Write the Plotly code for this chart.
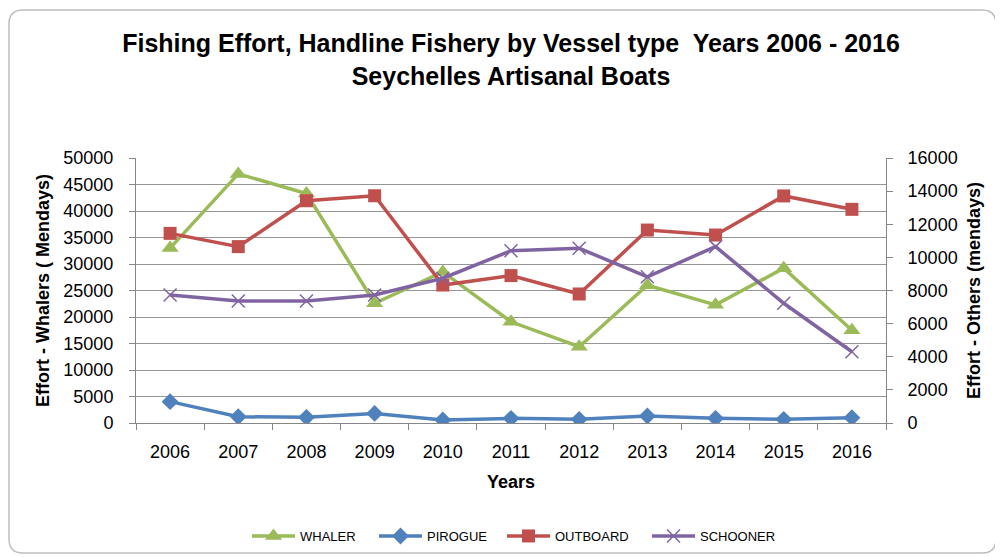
import plotly.graph_objects as go

years = ["2006", "2007", "2008", "2009", "2010", "2011", "2012", "2013", "2014", "2015", "2016"]
whaler = [33000, 47000, 43300, 22600, 28500, 19100, 14400, 26000, 22300, 29200, 17500]
pirogue = [1290, 380, 340, 580, 180, 280, 220, 420, 280, 220, 320]
outboard = [11450, 10650, 13420, 13720, 8330, 8900, 7790, 11650, 11350, 13710, 12900]
schooner = [7730, 7370, 7370, 7730, 8740, 10400, 10550, 8830, 10650, 7230, 4300]

OFF = 8  # page body margin offset
W, H = 1003 - OFF, 557 - OFF
L, R, T, B = 136 - OFF, 886 - OFF, 158 - OFF, 423 - OFF


def px(x):
    # page pixel x -> paper coordinate
    return (x - OFF - L) / (R - L)


def py(y):
    return (B - (y - OFF)) / (B - T)


fig = go.Figure()
fig.add_trace(go.Scatter(x=years, y=whaler, name="WHALER", mode="lines+markers", legend="legend",
                         line=dict(color="#9BBB59", width=3.5),
                         marker=dict(symbol="triangle-up", size=15, color="#9BBB59")))
fig.add_trace(go.Scatter(x=years, y=pirogue, name="PIROGUE", mode="lines+markers", yaxis="y2",
                         legend="legend2",
                         line=dict(color="#4F81BD", width=3.5),
                         marker=dict(symbol="diamond", size=13, color="#4F81BD")))
fig.add_trace(go.Scatter(x=years, y=outboard, name="OUTBOARD", mode="lines+markers", yaxis="y2",
                         legend="legend3",
                         line=dict(color="#C0504D", width=3.5),
                         marker=dict(symbol="square", size=13, color="#C0504D")))
fig.add_trace(go.Scatter(x=years, y=schooner, name="SCHOONER", mode="lines+markers", yaxis="y2",
                         legend="legend4",
                         line=dict(color="#8064A2", width=3.5),
                         marker=dict(symbol="x-thin-open", size=13, color="#8064A2",
                                     line=dict(color="#8064A2", width=1.5))))

# rounded outer border (page pixel coordinates)
x0, x1, y0, y1, r = 9, 996, 10, 553, 14
path = (f"M {px(x0+r)},{py(y0)} L {px(x1-r)},{py(y0)} Q {px(x1)},{py(y0)} {px(x1)},{py(y0+r)} "
        f"L {px(x1)},{py(y1-r)} Q {px(x1)},{py(y1)} {px(x1-r)},{py(y1)} "
        f"L {px(x0+r)},{py(y1)} Q {px(x0)},{py(y1)} {px(x0)},{py(y1-r)} "
        f"L {px(x0)},{py(y0+r)} Q {px(x0)},{py(y0)} {px(x0+r)},{py(y0)} Z")

legend_starts = [253, 380, 508, 653]
legend_common = dict(orientation="h", yanchor="middle", y=py(536), xanchor="left",
                     font=dict(size=13), itemwidth=43, bgcolor="rgba(0,0,0,0)")

axis_font = dict(size=18)
tick_font = dict(size=18)
fig.update_layout(
    width=W, height=H, showlegend=True,
    margin=dict(l=L, r=W - R, t=T, b=H - B, autoexpand=False),
    paper_bgcolor="white", plot_bgcolor="white",
    font=dict(family="Liberation Sans, Arial", color="#000000", size=15),
    title=dict(text="<b>Fishing Effort, Handline Fishery by Vessel type  Years 2006 - 2016<br>Seychelles Artisanal Boats</b>",
               xref="container", x=(511 - OFF) / W, xanchor="center", y=1 - 44 / H, yanchor="top",
               font=dict(size=25, color="#000000")),
    xaxis=dict(type="category", range=[-0.5, 10.5], autorange=False, automargin=False,
               title=dict(text="<b>Years</b>", font=axis_font, standoff=14),
               showline=True, linecolor="#868686", linewidth=1,
               ticks="outside", tickson="boundaries", ticklen=6, tickcolor="#868686",
               showgrid=False, tickfont=tick_font, ticklabelstandoff=12),
    yaxis=dict(range=[0, 50000], dtick=5000, tickformat="d", automargin=False,
               showline=True, linecolor="#868686",
               ticks="outside", ticklen=6, tickcolor="#868686",
               showgrid=True, gridcolor="#959595", gridwidth=1, zeroline=False,
               title=dict(text="<b>Effort - Whalers ( Mendays)</b>", font=axis_font, standoff=9),
               tickfont=tick_font, ticklabelstandoff=12),
    yaxis2=dict(range=[0, 16000], dtick=2000, tickformat="d", automargin=False,
                overlaying="y", side="right", showline=True,
                linecolor="#868686", ticks="outside", ticklen=6, tickcolor="#868686",
                showgrid=False, zeroline=False,
                title=dict(text="<b>Effort - Others (mendays)</b>", font=axis_font, standoff=10),
                tickfont=tick_font, ticklabelstandoff=11),
    legend=dict(x=px(legend_starts[0] - 6), **legend_common),
    legend2=dict(x=px(legend_starts[1] - 6), **legend_common),
    legend3=dict(x=px(legend_starts[2] - 6), **legend_common),
    legend4=dict(x=px(legend_starts[3] - 6), **legend_common),
    shapes=[dict(type="path", path=path, xref="paper", yref="paper",
                 line=dict(color="#BFBFBF", width=1.5), layer="below")],
)

fig.write_html("out.html")
